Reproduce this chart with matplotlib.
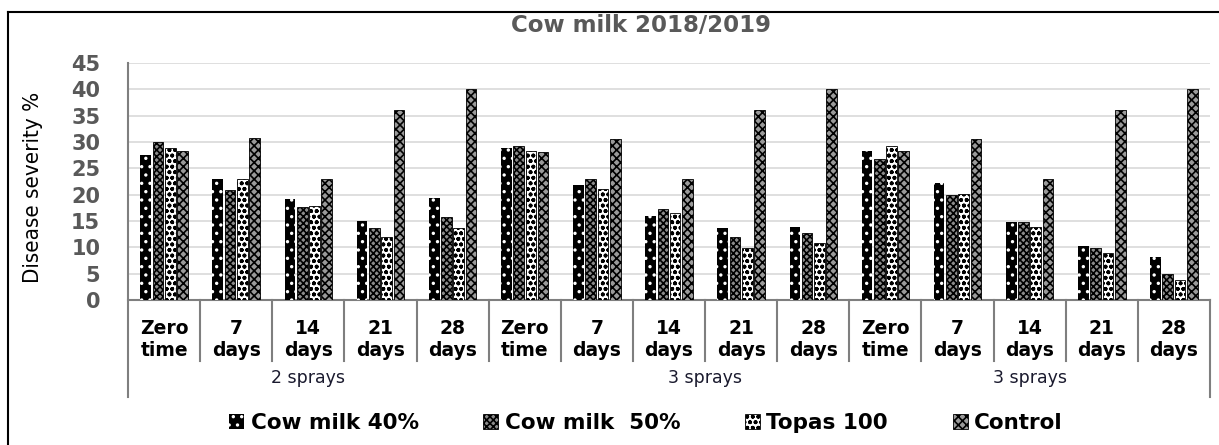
import matplotlib
matplotlib.use("Agg")
import matplotlib.pyplot as plt
from matplotlib.lines import Line2D
from matplotlib.patches import Patch
import numpy as np

# data
day_labels = ["Zero\ntime", "7\ndays", "14\ndays", "21\ndays", "28\ndays"] * 3
block_labels = ["2 sprays", "3 sprays", "3 sprays"]
block_pos = [2.0, 7.5, 12.0]
series_names = ["Cow milk 40%", "Cow milk  50%", "Topas 100", "Control"]

cow40 = [27.5, 23.0, 19.2, 15.0, 19.4, 28.8, 21.8, 15.9, 13.6, 13.8, 28.2, 22.2, 14.9, 10.2, 8.1]
cow50 = [30.0, 20.8, 17.7, 13.6, 15.8, 29.3, 23.0, 17.2, 12.0, 12.7, 26.8, 19.9, 14.8, 9.9, 4.9]
topas = [28.9, 22.9, 17.9, 11.9, 13.7, 28.3, 21.1, 16.5, 9.9, 10.8, 29.2, 20.2, 13.8, 9.0, 3.8]
control = [28.2, 30.7, 22.9, 36.1, 40.0, 28.1, 30.6, 23.0, 36.1, 40.0, 28.2, 30.6, 23.0, 36.1, 40.0]

plt.rcParams["hatch.linewidth"] = 1.2

W, H = 1219, 445
fig = plt.figure(figsize=(W / 100, H / 100), dpi=100)
ax = fig.add_axes([128 / W, 1 - 300 / H, 1082 / W, 237 / H])

x = np.arange(len(day_labels))
slot = 0.17
bw = 0.148
styles = [
    dict(facecolor="black", edgecolor="white", hatch="..", linewidth=0),
    dict(facecolor="#8c8c8c", edgecolor="black", hatch="xxxxx", linewidth=0.6),
    dict(facecolor="white", edgecolor="black", hatch="ooo", linewidth=0.6),
    dict(facecolor="#9a9a9a", edgecolor="black", hatch="xxxx", linewidth=0.6),
]
for i, (vals, st) in enumerate(zip([cow40, cow50, topas, control], styles)):
    ax.bar(x + (i - 1.5) * slot, vals, bw, zorder=3, **st)

ax.set_xlim(-0.5, len(day_labels) - 0.5)
ax.set_ylim(0, 45)
ax.set_yticks(range(0, 46, 5))
ax.tick_params(axis="y", length=0, pad=20, labelsize=15, labelcolor="#595959")
for t in ax.get_yticklabels():
    t.set_fontweight("bold")
ax.yaxis.grid(True, color="#d9d9d9", linewidth=1.2, zorder=0)
ax.set_axisbelow(True)

ax.set_xticks(x)
ax.set_xticklabels(day_labels, fontsize=13.5, fontweight="bold", linespacing=1.15)
ax.tick_params(axis="x", length=0, pad=14)

for s in ["top", "right", "left"]:
    ax.spines[s].set_visible(False)
ax.spines["bottom"].set_color("#7f7f7f")
ax.spines["bottom"].set_linewidth(1.5)

# category separators (multi-level axis)
trans = ax.get_xaxis_transform()
for k in range(len(day_labels) + 1):
    xe = k - 0.5
    ybot = -0.41 if k in (0, len(day_labels)) else -0.258
    ytop = 1.0 if k == 0 else 0.0
    ax.plot([xe, xe], [ybot, ytop], color="#7f7f7f", lw=1.5,
            transform=trans, clip_on=False, zorder=4)

for lab, pos in zip(block_labels, block_pos):
    ax.text(pos, -0.33, lab, transform=trans, ha="center", va="center",
            fontsize=12.5, color="#1a1a2e")

fig.text(33 / W, 1 - 187 / H, "Disease severity %", rotation=90,
         ha="center", va="center", fontsize=16, fontstretch="condensed",
         family=["DejaVu Sans"])

fig.text(641 / W, 1 - 25 / H, "Cow milk 2018/2019", ha="center", va="center",
         fontsize=16.5, fontweight="bold", color="#595959")

# outer frame
fig.add_artist(Line2D([8 / W, 8 / W], [0, 1 - 12 / H], color="black", lw=1.5,
                      transform=fig.transFigure))
fig.add_artist(Line2D([8 / W, 1], [1 - 12 / H, 1 - 12 / H], color="black", lw=1.5,
                      transform=fig.transFigure))

handles = [Patch(**st) for st in styles]
fig.legend(handles, series_names, loc="center", bbox_to_anchor=(646 / W, 1 - 423 / H),
           ncol=4, frameon=False, handlelength=0.7, handleheight=0.7,
           handletextpad=0.3, columnspacing=3.0,
           prop=dict(size=15.5, weight="bold"))

fig.savefig("out.png", dpi=100)
